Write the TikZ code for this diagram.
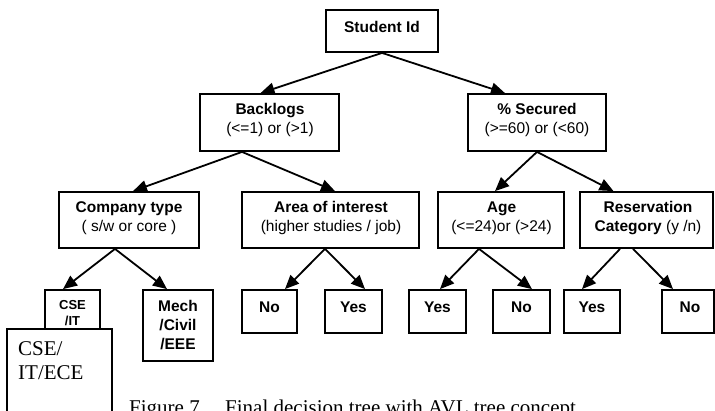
\documentclass[tikz,border=0pt]{standalone}
\usepackage{fontspec}
\setmainfont{Liberation Serif}
\newfontfamily\arialf{Liberation Sans}
\usetikzlibrary{arrows.meta}
\begin{document}
\begin{tikzpicture}[x=1pt,y=-1pt,
  box/.style={draw, line width=1.8pt, inner sep=0pt, fill=white},
  lbl/.style={anchor=base, inner sep=0pt, font=\arialf\fontsize{15.5}{19}\selectfont},
  blbl/.style={anchor=base, inner sep=0pt, font=\arialf\bfseries\fontsize{15.5}{19}\selectfont},
  slbl/.style={anchor=base, inner sep=0pt, font=\arialf\bfseries\fontsize{13}{16}\selectfont},
  conn/.style={line width=1.8pt, -{Triangle[length=14pt,width=12pt]}},
  serif/.style={anchor=base west, inner sep=0pt, font=\fontsize{21}{24}\selectfont}]
\useasboundingbox (0,0) rectangle (715,410);

% boxes
\node[box, minimum width=112pt, minimum height=42pt] (sid) at (382,31) {};
\node[box, minimum width=139pt, minimum height=57pt] (back) at (269.5,122.5) {};
\node[box, minimum width=138pt, minimum height=57pt] (sec) at (537,122.5) {};
\node[box, minimum width=140pt, minimum height=56pt] (comp) at (129,220) {};
\node[box, minimum width=177pt, minimum height=56pt] (area) at (330.5,220) {};
\node[box, minimum width=126pt, minimum height=56pt] (age) at (501,220) {};
\node[box, minimum width=133pt, minimum height=56pt] (res) at (646.5,220) {};
\node[box, minimum width=55pt, minimum height=50pt] (csei) at (72.5,315) {};
\node[box, minimum width=70pt, minimum height=71pt] (mech) at (178,325.5) {};
\node[box, minimum width=55pt, minimum height=43pt] (no1) at (269.5,311.5) {};
\node[box, minimum width=57pt, minimum height=43pt] (yes1) at (353.5,311.5) {};
\node[box, minimum width=57pt, minimum height=43pt] (yes2) at (437.5,311.5) {};
\node[box, minimum width=57pt, minimum height=43pt] (no2) at (521.5,311.5) {};
\node[box, minimum width=56pt, minimum height=43pt] (yes3) at (592,311.5) {};
\node[box, minimum width=52pt, minimum height=43pt] (no3) at (688,311.5) {};

% texts
\node[blbl] (tsid) at (382,32) {Student Id};
\node[blbl] (tback1) at (270,114) {Backlogs};
\node[lbl] (tback2) at (270,133) {(<=1) or (>1)};
\node[blbl] (tsec1) at (537,114) {\% Secured};
\node[lbl] (tsec2) at (537,133) {(>=60) or (<60)};
\node[blbl] (tcomp1) at (129,212.5) {Company type};
\node[lbl] (tcomp2) at (129,231) {( s/w or core )};
\node[blbl] (tarea1) at (331,212.5) {Area of interest};
\node[lbl] (tarea2) at (331,231) {(higher studies / job)};
\node[blbl] (tage1) at (501.5,212.5) {Age};
\node[lbl] (tage2) at (501.5,231) {(<=24)or (>24)};
\node[blbl] (tres1) at (648,212.5) {Reservation};
\node[lbl] (tres2) at (648,231) {\textbf{Category} (y /n)};
\node[slbl] (tcsei1) at (72.5,309.5) {CSE};
\node[slbl] (tcsei2) at (72.5,325) {/IT};
\node[blbl] (tmech1) at (178,311.5) {Mech};
\node[blbl] (tmech2) at (178,330.5) {/Civil};
\node[blbl] (tmech3) at (178,349.5) {/EEE};
\node[blbl] (tno1) at (269.5,312) {No};
\node[blbl] (tyes1) at (353.5,312) {Yes};
\node[blbl] (tyes2) at (437.5,312) {Yes};
\node[blbl] (tno2) at (521.5,312) {No};
\node[blbl] (tyes3) at (592,312) {Yes};
\node[blbl] (tno3) at (690,312) {No};

% connectors
\draw[conn] (sid.south) -- ([xshift=-9pt]back.north);
\draw[conn] (sid.south) -- ([xshift=-32pt]sec.north);
\draw[conn] ([xshift=-27.5pt]back.south) -- ([xshift=4pt]comp.north);
\draw[conn] ([xshift=-27.5pt]back.south) -- ([xshift=4.5pt]area.north);
\draw[conn] (sec.south) -- ([xshift=-6pt]age.north);
\draw[conn] (sec.south) -- ([xshift=-33pt]res.north);
\draw[conn] ([xshift=-14pt]comp.south) -- ([xshift=-9.5pt]csei.north);
\draw[conn] ([xshift=-14pt]comp.south) -- ([xshift=-11pt]mech.north);
\draw[conn] ([xshift=-5.5pt]area.south) -- ([xshift=15.5pt]no1.north);
\draw[conn] ([xshift=-5.5pt]area.south) -- ([xshift=11.5pt]yes1.north);
\draw[conn] ([xshift=-22pt]age.south) -- ([xshift=2.5pt]yes2.north);
\draw[conn] ([xshift=-22pt]age.south) -- ([xshift=10.5pt]no2.north);
\draw[conn] ([xshift=-26.5pt]res.south) -- ([xshift=-10pt]yes3.north);
\draw[conn] ([xshift=-13.5pt]res.south) -- ([xshift=-15pt]no3.north);

% overlapping box
\node[box, minimum width=105pt, minimum height=92pt] (cie) at (59.5,375) {};
\node[serif] (tcie1) at (18,355) {CSE/};
\node[serif] (tcie2) at (18,379) {IT/ECE};

% caption (cut by the lower edge, as in the reference)
\node[serif] (cap1) at (129,414) {Figure 7};
\node[serif] (cap2) at (225,414) {Final decision tree with AVL tree concept};
\end{tikzpicture}
\end{document}
